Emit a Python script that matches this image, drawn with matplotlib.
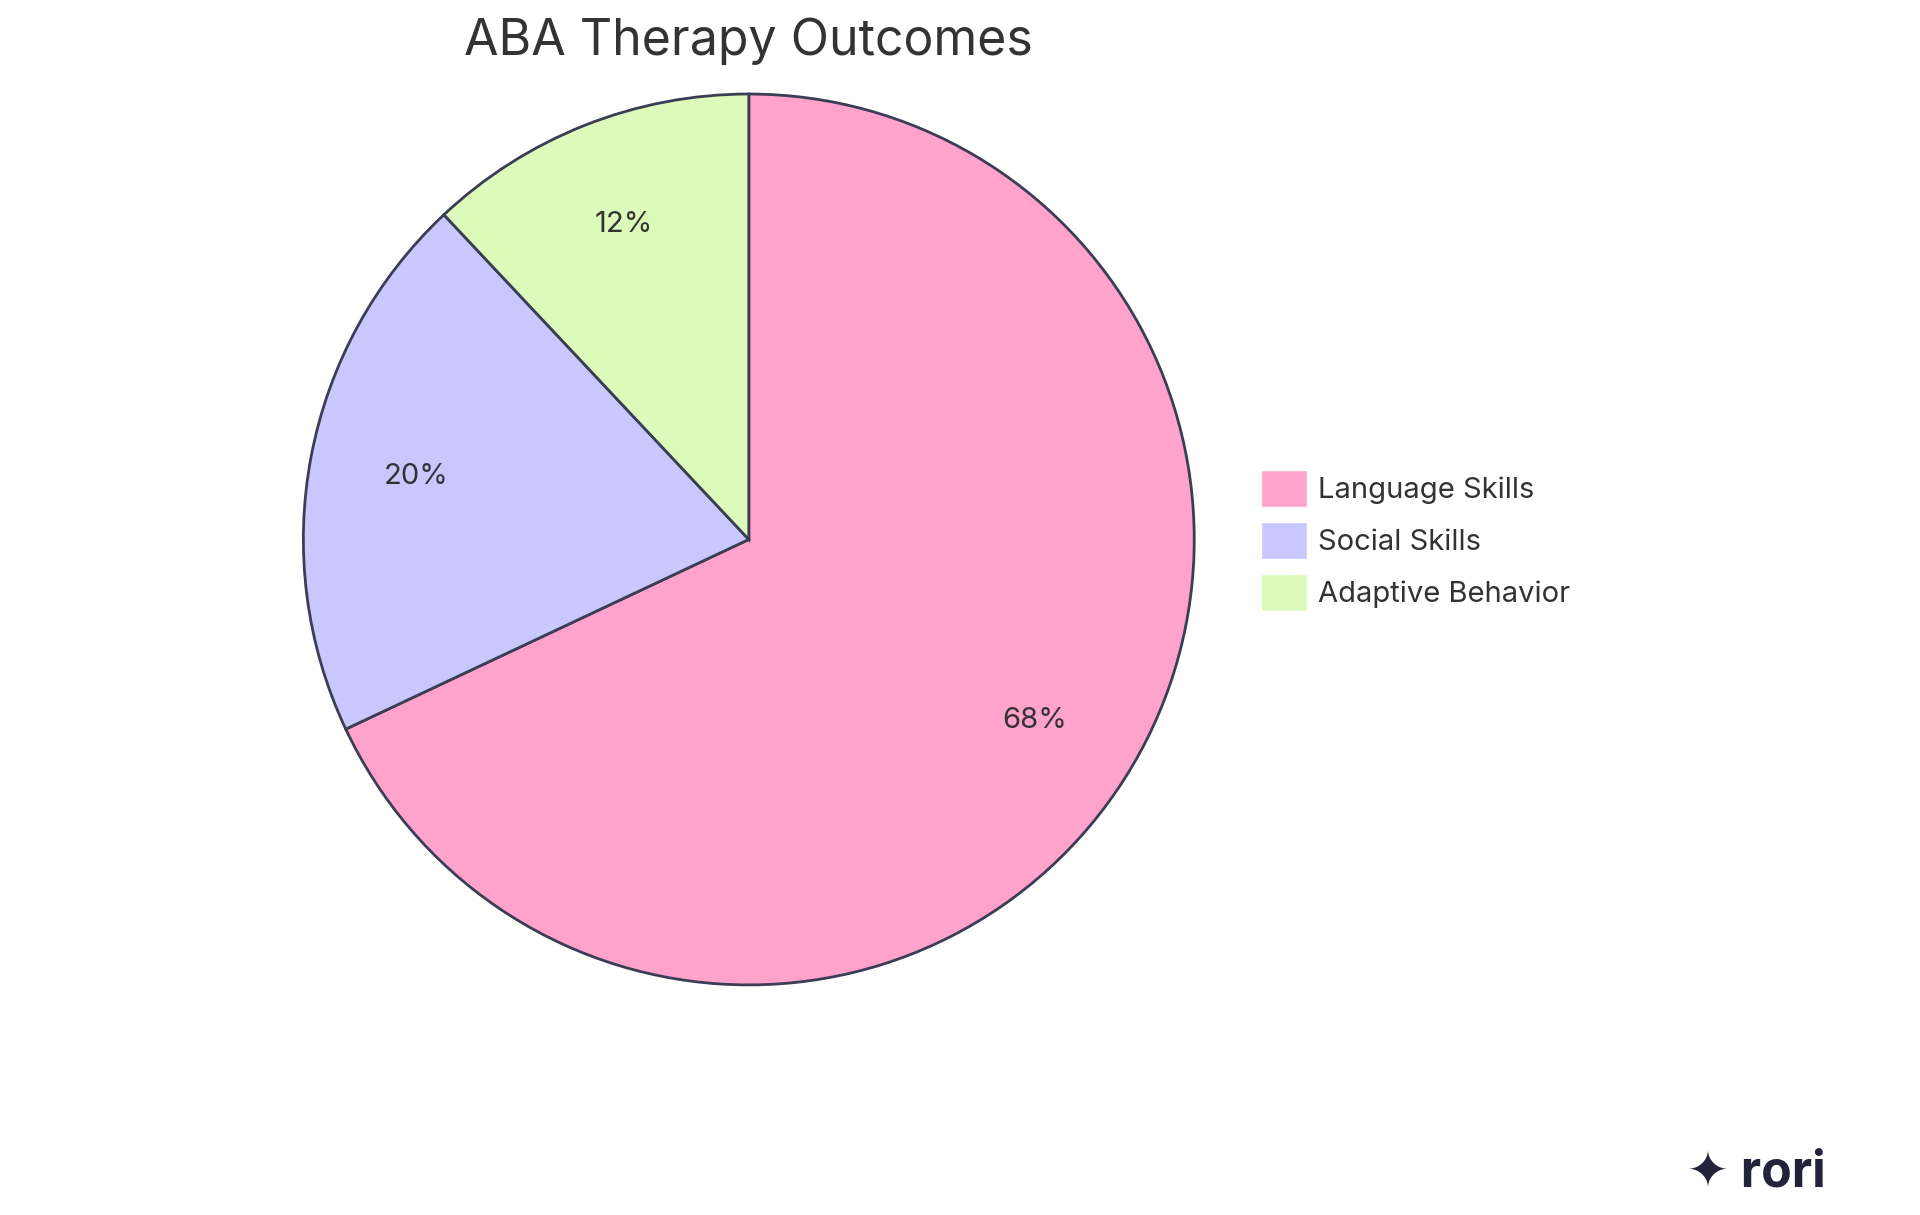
import matplotlib
matplotlib.use("Agg")
import matplotlib.pyplot as plt
from matplotlib.patches import Patch

categories = ["Language Skills", "Social Skills", "Adaptive Behavior"]
values = [68, 20, 12]
colors = ["#FFA2CC", "#C8C8FF", "#DCFABA"]
edge = "#3B3D55"

plt.rcParams['font.family'] = ['Inter', 'DejaVu Sans']
fig = plt.figure(figsize=(19.2, 12.15), dpi=100)
w = 0.58
h = w * 19.2 / 12.15
ax = fig.add_axes([0.390 - w/2, 0.556 - h/2, w, h])
wedges, texts, autotexts = ax.pie(values, colors=colors, startangle=90, counterclock=False,
       autopct='%d%%', pctdistance=0.76,
       wedgeprops=dict(edgecolor=edge, linewidth=2),
       textprops=dict(fontsize=21, color="#333333"))
ax.set_aspect('equal')
fig.text(0.390, 0.966, "ABA Therapy Outcomes", ha='center', va='center', fontsize=36, color="#333333")
handles = [Patch(facecolor=c, edgecolor='white') for c in colors]
fig.legend(handles, categories, loc='center left', bbox_to_anchor=(0.643, 0.555), frameon=False,
           fontsize=21, handlelength=1.6, handleheight=1.6, handletextpad=0.35,
           labelcolor="#333333", labelspacing=0.5)
fig.text(0.915, 0.035, "✦ rori", ha='center', va='center', fontsize=36, fontweight='bold', color="#22223A")
fig.savefig("out.png", dpi=100)
